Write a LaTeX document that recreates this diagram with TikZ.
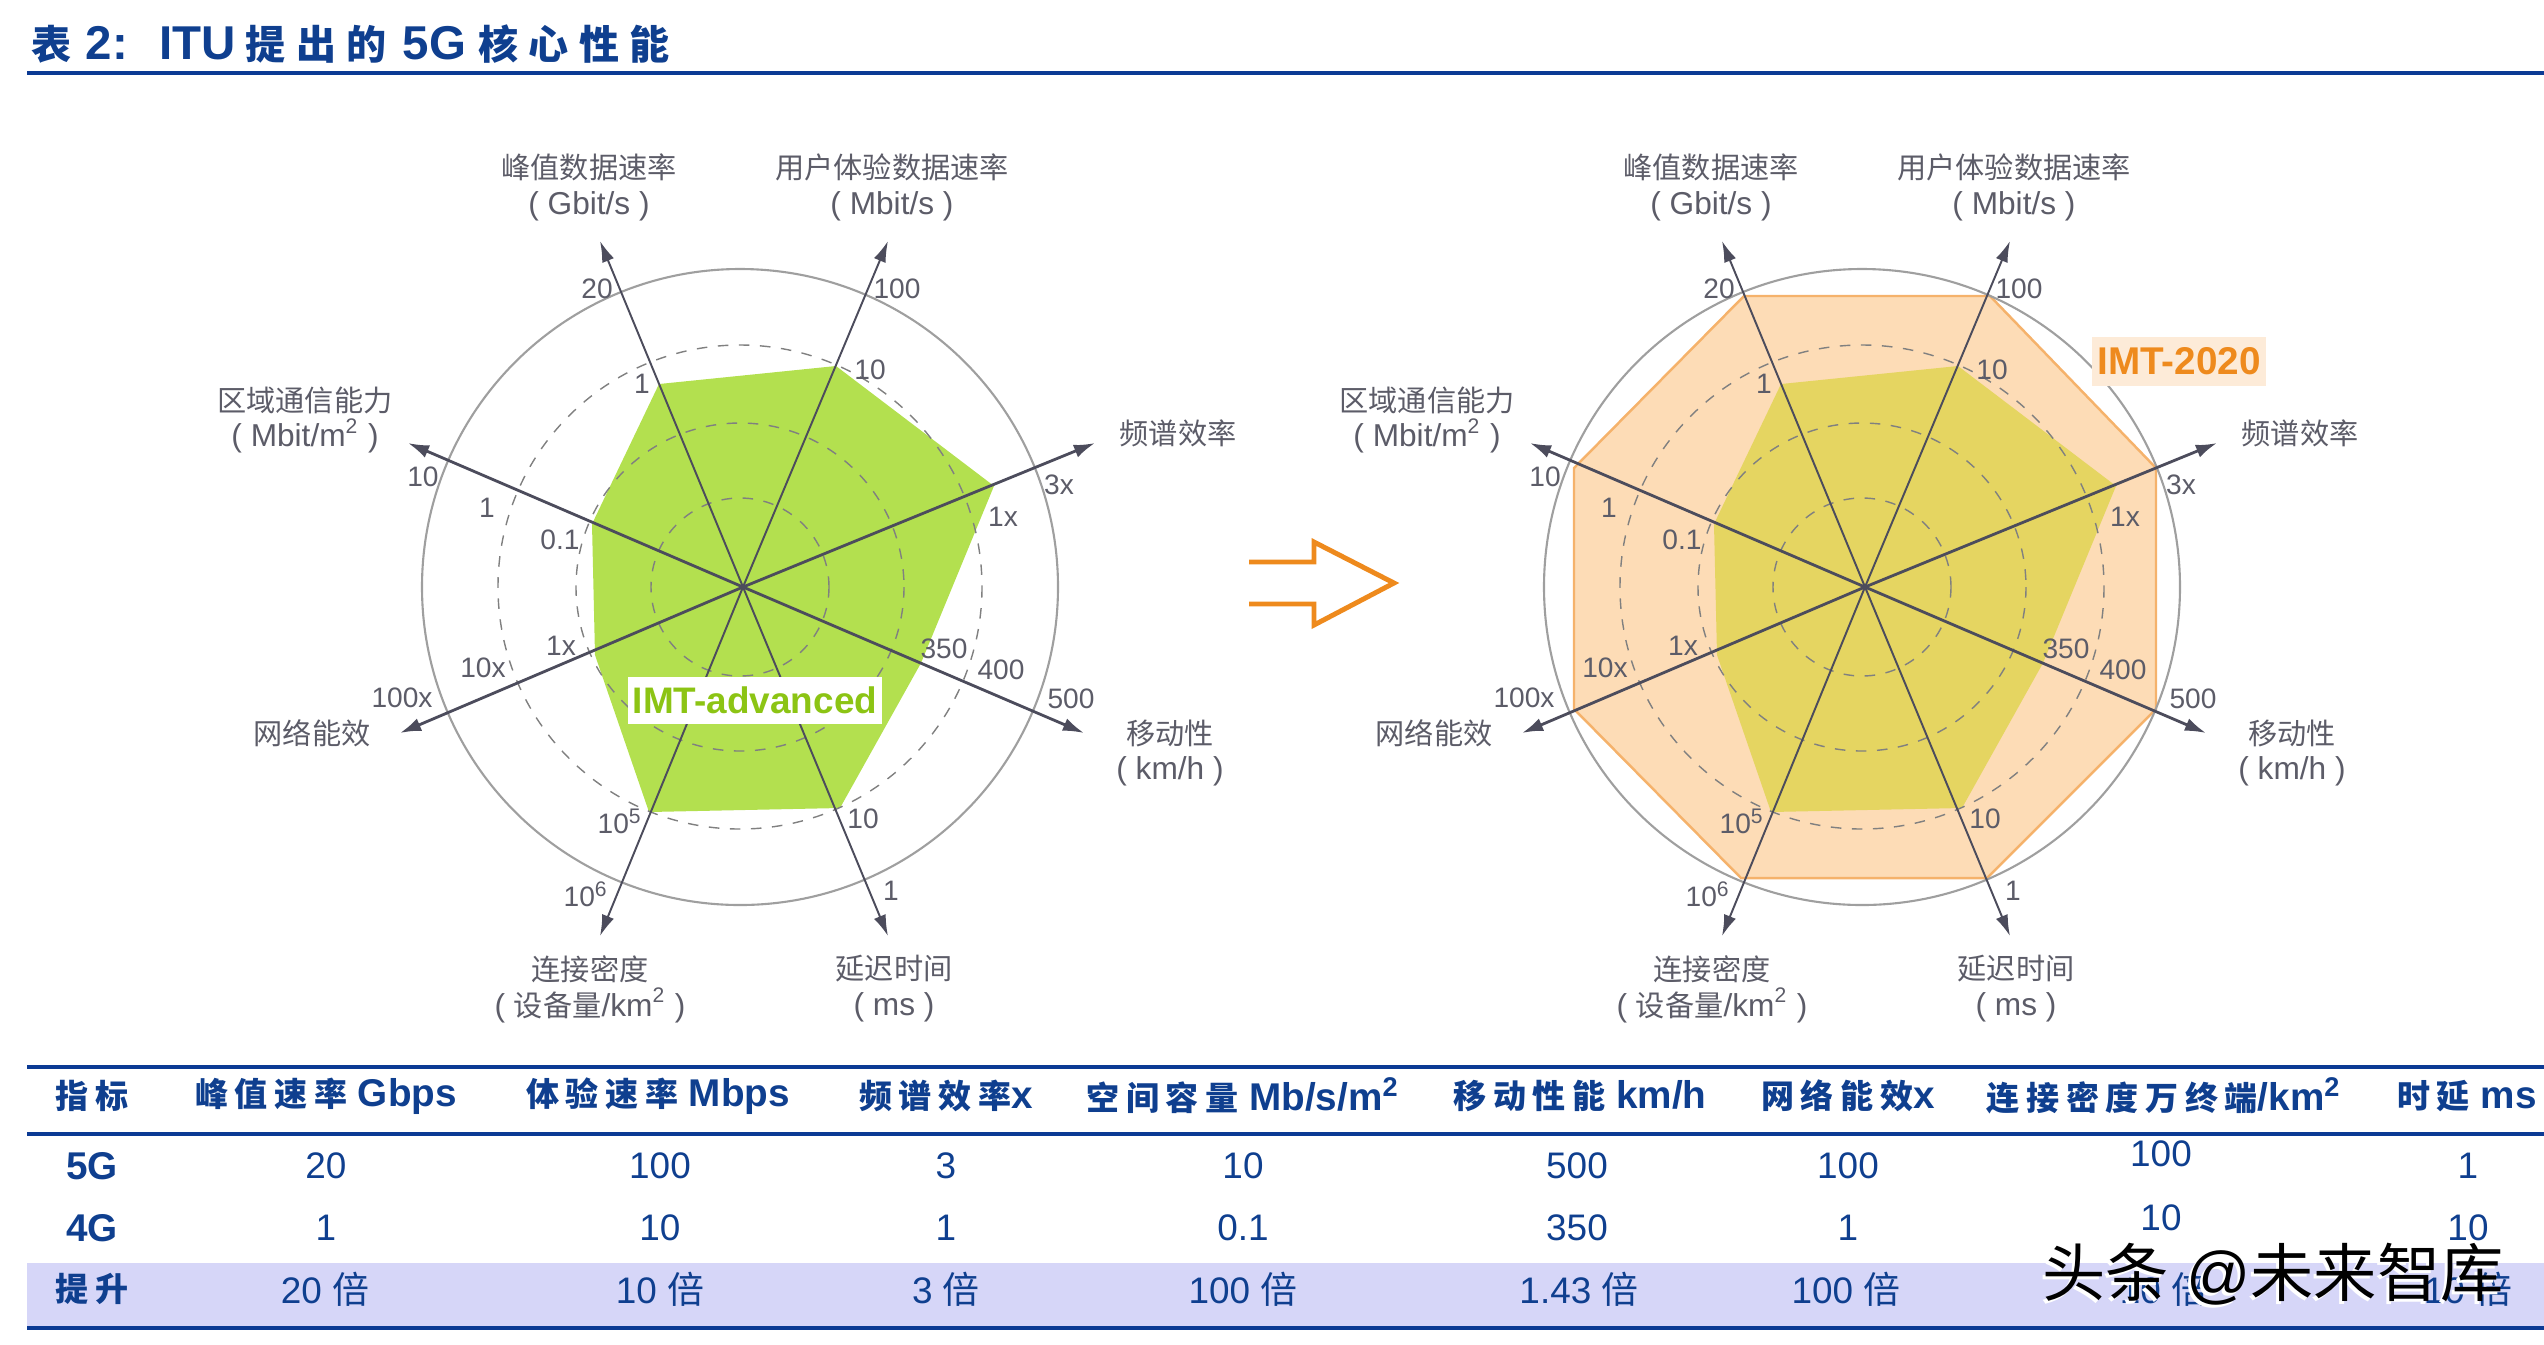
\documentclass[tikz,border=0pt]{standalone}
\usepackage{fontspec}
\setmainfont{Liberation Sans}
\newfontfamily\cjk{Noto Sans CJK SC}
\newfontfamily\cjkwide[LetterSpace=20]{Noto Sans CJK SC}
\newfontfamily\cjktitle[LetterSpace=26]{Noto Sans CJK SC}
\usepackage{tikz}
\usetikzlibrary{arrows.meta}
\definecolor{navy}{HTML}{0F3F8F}
\definecolor{rulenavy}{HTML}{0B3A94}
\definecolor{band}{HTML}{D6D6F8}
\definecolor{axisgray}{HTML}{4C4C5C}
\definecolor{labelgray}{HTML}{5C5C68}
\definecolor{imtgreen}{HTML}{B3E04F}
\definecolor{imtgreentext}{HTML}{8CC414}
\definecolor{imtyellow}{HTML}{E5D561}
\definecolor{peach}{HTML}{FDDCB6}
\definecolor{peachedge}{HTML}{F5B26B}
\definecolor{peachbox}{HTML}{FDEBD8}
\definecolor{imtorange}{HTML}{EE8A1D}
\tikzstyle{axisthin} = [axisgray,line width=0.55pt,-{Latex[length=6pt,width=3.6pt]}]
\tikzstyle{axisthick} = [axisgray,line width=0.8pt,-{Latex[length=6pt,width=3.8pt]}]
\tikzstyle{ring} = [draw=gray!75,line width=0.6pt]
\tikzstyle{dashring} = [draw=gray,line width=0.4pt,dashed]
\tikzstyle{axistitle} = [text=labelgray,align=center,inner sep=0pt,font=\fontsize{9}{10.2}\selectfont]
\tikzstyle{tick} = [text=labelgray,inner sep=0pt,font=\fontsize{8}{9}\selectfont]
\tikzstyle{rulefat} = [draw=rulenavy,line width=1.1pt]
\tikzstyle{head} = [text=navy,inner sep=0pt,font=\fontsize{11}{13}\selectfont\bfseries]
\tikzstyle{cell} = [text=navy,inner sep=0pt,font=\fontsize{10.5}{13}\selectfont]
\newcommand{\hz}[1]{{\cjkwide\fontsize{9.4}{13}\selectfont #1}}
\newcommand{\tz}[1]{{\cjktitle\fontsize{11.4}{13}\selectfont #1}}
\newcommand{\ct}[1]{{\cjk\fontsize{8.3}{10.2}\selectfont #1}}
\newcommand{\radarchart}[1]{
	\coordinate (#1c) at (743,587);
	\coordinate (#1ring) at (740,587);
	\draw[ring] (#1ring) circle (318);
	\draw[dashring] (#1ring) circle (242);
	\draw[dashring] (#1ring) circle (164);
	\draw[dashring] (#1ring) circle (89);
	\coordinate (#1peak) at (600,241);
	\coordinate (#1user) at (888,241);
	\coordinate (#1spec) at (1095,443);
	\coordinate (#1mob) at (1084,733);
	\coordinate (#1lat) at (888,936);
	\coordinate (#1dens) at (600,936);
	\coordinate (#1eff) at (400,733);
	\coordinate (#1area) at (408,443);
	\draw[axisthin] (#1c) -- (#1peak);
	\draw[axisthin] (#1c) -- (#1user);
	\draw[axisthick] (#1c) -- (#1spec);
	\draw[axisthick] (#1c) -- (#1mob);
	\draw[axisthin] (#1c) -- (#1lat);
	\draw[axisthin] (#1c) -- (#1dens);
	\draw[axisthick] (#1c) -- (#1eff);
	\draw[axisthick] (#1c) -- (#1area);
	\node (#1tpeak) at (589,187) [axistitle] {\ct{峰值数据速率}\\( Gbit/s )};
	\node (#1tuser) at (892,187) [axistitle] {\ct{用户体验数据速率}\\( Mbit/s )};
	\node (#1tarea) at (305,420) [axistitle] {\ct{区域通信能力}\\( Mbit/m\textsuperscript{2} )};
	\node (#1tspec) at (1178,433) [axistitle] {\ct{频谱效率}};
	\node (#1tmob) at (1170,753) [axistitle] {\ct{移动性}\\( km/h )};
	\node (#1teff) at (312,733) [axistitle] {\ct{网络能效}};
	\node (#1tdens) at (590,989) [axistitle] {\ct{连接密度}\\( \ct{设备量}/km\textsuperscript{2} )};
	\node (#1tlat) at (894,989) [axistitle] {\ct{延迟时间}\\( ms )};
	\node (#1a) at (597,289) [tick] {20};
	\node (#1b) at (897,289) [tick] {100};
	\node (#1d) at (870,370) [tick] {10};
	\node (#1e) at (642,384) [tick] {1};
	\node (#1f) at (423,477) [tick] {10};
	\node (#1g) at (487,508) [tick] {1};
	\node (#1h) at (560,540) [tick] {0.1};
	\node (#1i) at (1059,485) [tick] {3x};
	\node (#1j) at (1003,517) [tick] {1x};
	\node (#1k) at (944,649) [tick] {350};
	\node (#1l) at (1001,670) [tick] {400};
	\node (#1m) at (1071,699) [tick] {500};
	\node (#1n) at (561,646) [tick] {1x};
	\node (#1o) at (483,668) [tick] {10x};
	\node (#1p) at (402,698) [tick] {100x};
	\node (#1q) at (620,821) [tick] {10\textsuperscript{5}};
	\node (#1r) at (863,819) [tick] {10};
	\node (#1s) at (586,894) [tick] {10\textsuperscript{6}};
	\node (#1t) at (891,891) [tick] {1};
}

\begin{document}
\begin{tikzpicture}[x=0.01cm,y=-0.01cm]
	\useasboundingbox (0,0) rectangle (2544,1344);
	\node (title) at (31,44) [anchor=west,text=navy,inner sep=0pt,font=\fontsize{13.5}{14}\selectfont\bfseries] {\tz{表}\hspace{4pt}2:\hspace{8.9pt}ITU\hspace{2.8pt}\tz{提出的}\hspace{4.5pt}5G\hspace{3.5pt}\tz{核心性能}};
	\coordinate (titleL) at (27,73);
	\coordinate (titleR) at (2544,73);
	\draw[rulefat] (titleL) -- (titleR);

	\fill[imtgreen] (659,384) -- (836,366) -- (994,486) -- (921,663) -- (840,808) -- (649,812) -- (595,655) -- (592,524) -- cycle;
	\radarchart{l}
	\node (imtadv) at (755,700) [fill=white,text=imtgreentext,inner sep=0pt,minimum width=2.53cm,minimum height=0.47cm,font=\fontsize{10.5}{12}\selectfont\bfseries] {IMT-advanced};

	\draw[imtorange,line width=1.4pt,line join=miter] (1249,562) -- (1314,562) -- (1314,542) -- (1394,583) -- (1314,625) -- (1314,604) -- (1249,604);

	\begin{scope}[shift={(1122,0)}]
		\filldraw[fill=peach,draw=peachedge,line width=0.7pt] (622,296) -- (868,296) -- (1034,468) -- (1034,709) -- (865,878) -- (619,878) -- (452,709) -- (452,468) -- cycle;
		\fill[imtyellow] (659,384) -- (836,366) -- (994,486) -- (921,663) -- (840,808) -- (649,812) -- (595,655) -- (592,524) -- cycle;
		\radarchart{r}
	\end{scope}
	\node (imt2020) at (2179,361) [fill=peachbox,text=imtorange,inner sep=0pt,minimum width=1.73cm,minimum height=0.49cm,font=\fontsize{11}{12}\selectfont\bfseries] {IMT-2020};

	\fill[band] (27,1263) rectangle (2544,1326);
	\coordinate (top1) at (27,1067);
	\coordinate (top2) at (2544,1067);
	\coordinate (mid1) at (27,1134);
	\coordinate (mid2) at (2544,1134);
	\coordinate (bot1) at (27,1328);
	\coordinate (bot2) at (2544,1328);
	\draw[rulefat] (top1) -- (top2);
	\draw[rulefat] (mid1) -- (mid2);
	\draw[rulefat] (bot1) -- (bot2);

	\node (h1) at (92,1096) [head] {\hz{指标}};
	\node (h2) at (326,1096) [head] {\hz{峰值速率} Gbps};
	\node (h3) at (658,1096) [head] {\hz{体验速率} Mbps};
	\node (h4) at (946,1096) [head] {\hz{频谱效率}x};
	\node (h5) at (1243,1096) [head] {\hz{空间容量} Mb/s/m\textsuperscript{2}};
	\node (h6) at (1580,1096) [head] {\hz{移动性能} km/h};
	\node (h7) at (1848,1096) [head] {\hz{网络能效}x};
	\node (h8) at (2164,1096) [head] {\hz{连接密度万终端}/km\textsuperscript{2}};
	\node (h9) at (2467,1096) [head] {\hz{时延} ms};

	\node (a1) at (92,1166) [head] {5G};
	\node (a2) at (326,1166) [cell] {20};
	\node (a3) at (660,1166) [cell] {100};
	\node (a4) at (946,1166) [cell] {3};
	\node (a5) at (1243,1166) [cell] {10};
	\node (a6) at (1577,1166) [cell] {500};
	\node (a7) at (1848,1166) [cell] {100};
	\node (a8) at (2161,1154) [cell] {100};
	\node (a9) at (2468,1166) [cell] {1};

	\node (b1) at (92,1228) [head] {4G};
	\node (b2) at (326,1228) [cell] {1};
	\node (b3) at (660,1228) [cell] {10};
	\node (b4) at (946,1228) [cell] {1};
	\node (b5) at (1243,1228) [cell] {0.1};
	\node (b6) at (1577,1228) [cell] {350};
	\node (b7) at (1848,1228) [cell] {1};
	\node (b8) at (2161,1218) [cell] {10};
	\node (b9) at (2468,1228) [cell] {10};

	\node (c1) at (92,1289) [head] {\hz{提升}};
	\node (c2) at (325,1289) [cell] {20 {\cjk 倍}};
	\node (c3) at (660,1289) [cell] {10 {\cjk 倍}};
	\node (c4) at (946,1289) [cell] {3 {\cjk 倍}};
	\node (c5) at (1243,1289) [cell] {100 {\cjk 倍}};
	\node (c6) at (1579,1289) [cell] {1.43 {\cjk 倍}};
	\node (c7) at (1846,1289) [cell] {100 {\cjk 倍}};
	\node (c8) at (2164,1289) [cell] {10 {\cjk 倍}};
	\node (c9) at (2468,1289) [cell] {10 {\cjk 倍}};

	\node (markwhite) at (2270,1277) [text=white,inner sep=0pt,font=\fontsize{18}{20}\selectfont] {{\cjk 头条} @{\cjk 未来智库}};
	\node (markblack) at (2273,1274) [text=black,inner sep=0pt,font=\fontsize{18}{20}\selectfont] {{\cjk 头条} @{\cjk 未来智库}};
\end{tikzpicture}
\end{document}
